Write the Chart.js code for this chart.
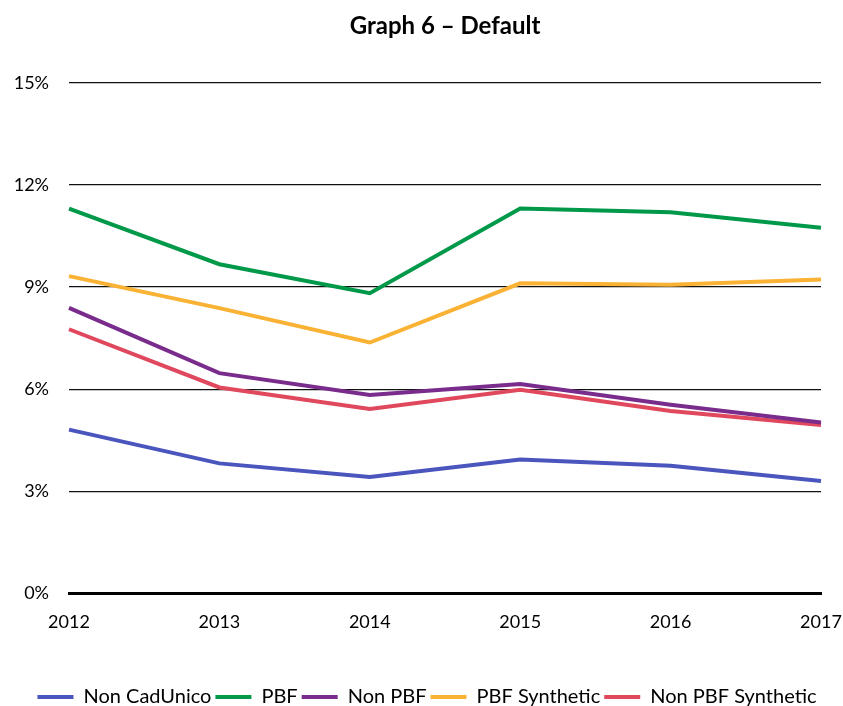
<!DOCTYPE html>
<html>
<head>
<meta charset="utf-8">
<script src="https://cdn.jsdelivr.net/npm/chart.js@4"></script>
<style>
  html, body { margin: 0; padding: 0; background: #fff; }
  #wrap { width: 843px; height: 706px; }
</style>
</head>
<body>
<div id="wrap"><canvas id="c"></canvas></div>
<script>
const years = ['2012', '2013', '2014', '2015', '2016', '2017'];
const nonCadUnico = [4.81, 3.82, 3.42, 3.93, 3.75, 3.30];
const pbf = [11.30, 9.67, 8.82, 11.31, 11.20, 10.74];
const nonPbf = [8.39, 6.47, 5.83, 6.15, 5.54, 5.02];
const pbfSynthetic = [9.32, 8.38, 7.37, 9.11, 9.07, 9.22];
const nonPbfSynthetic = [7.76, 6.05, 5.42, 5.98, 5.36, 4.95];
const yTicks = [0, 3, 6, 9, 12, 15];

const FONT = 'Lato, "Open Sans", sans-serif';

function ds(label, data, color) {
  return {
    label, data,
    borderColor: color,
    backgroundColor: color,
    borderWidth: 4,
    pointRadius: 0,
    pointHoverRadius: 0,
    tension: 0,
    fill: false
  };
}

new Chart(document.getElementById('c'), {
  type: 'line',
  data: {
    labels: years,
    datasets: [
      ds('Non CadUnico', nonCadUnico, '#4A55BD'),
      ds('PBF', pbf, '#00994A'),
      ds('Non PBF', nonPbf, '#7A2C8C'),
      ds('PBF Synthetic', pbfSynthetic, '#F9B233'),
      ds('Non PBF Synthetic', nonPbfSynthetic, '#E0485E')
    ]
  },
  options: {
    responsive: true,
    maintainAspectRatio: false,
    animation: false,
    layout: { padding: { left: 11, right: 0, top: 0, bottom: -11 } },
    plugins: {
      title: {
        display: true,
        fullSize: false,
        text: 'Graph 6 – Default',
        color: '#000',
        font: { family: FONT, size: 24, weight: 'bold' },
        padding: { top: 12, bottom: 42 }
      },
      legend: {
        position: 'bottom',
        labels: {
          usePointStyle: true,
          pointStyle: 'line',
          pointStyleWidth: 36,
          color: '#000',
          font: { family: FONT, size: 20 },
          padding: 4
        }
      },
      tooltip: { enabled: false }
    },
    scales: {
      x: {
        offset: false,
        grid: { display: false, drawTicks: false },
        border: { display: true, color: '#000', width: 3 },
        ticks: {
          color: '#000',
          font: { family: FONT, size: 18 },
          padding: 18,
          maxRotation: 0,
          autoSkip: false
        },
        afterFit: (scale) => {
          scale.paddingLeft = 0;
          scale.paddingRight = 22;
          scale.height += 32;
        }
      },
      y: {
        min: 0,
        max: 15,
        afterBuildTicks: (axis) => { axis.ticks = yTicks.map(v => ({ value: v })); },
        afterFit: (scale) => { scale.width = 58; },
        grid: {
          drawTicks: false,
          color: '#111',
          lineWidth: (ctx) => (ctx.tick && ctx.tick.value === 0 ? 0 : 1.3)
        },
        border: { display: false },
        ticks: {
          color: '#000',
          font: { family: FONT, size: 18 },
          padding: 20,
          callback: (v) => v + '%'
        }
      }
    }
  }
});
</script>
</body>
</html>
